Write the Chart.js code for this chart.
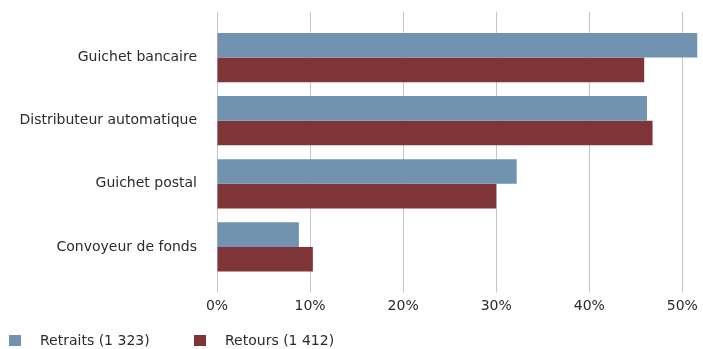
<!DOCTYPE html>
<html>
<head>
<meta charset="utf-8">
<script src="https://cdn.jsdelivr.net/npm/chart.js@4/dist/chart.umd.min.js"></script>
<style>
  html, body { margin: 0; padding: 0; background: #fff; }
  #wrap { position: relative; width: 703px; height: 349px; }
  #legend {
    position: absolute; left: 9px; top: 332px;
    display: flex; font: 14px "DejaVu Sans", sans-serif; color: #2b2b2b;
  }
  #legend .item { display: flex; align-items: center; width: 185px; }
  #legend .box { width: 12px; height: 11px; margin-right: 19px; }
</style>
</head>
<body>
<div id="wrap">
  <canvas id="chart-canaux" width="703" height="349"></canvas>
  <div id="legend"></div>
</div>
<script>
  const categories = ['Guichet bancaire', 'Distributeur automatique', 'Guichet postal', 'Convoyeur de fonds'];
  const retraits = [51.6, 46.2, 32.2, 8.8];
  const retours = [45.9, 46.8, 30.0, 10.3];
  const seriesLabels = ['Retraits (1 323)', 'Retours (1 412)'];
  const seriesColors = ['#7193af', '#7f3538'];

  const gridColor = '#c6c6c6';
  const textFont = { family: '"DejaVu Sans", sans-serif', size: 14 };

  const dataCanaux = {
    labels: categories,
    datasets: [
      { label: seriesLabels[0], data: retraits, backgroundColor: seriesColors[0] },
      { label: seriesLabels[1], data: retours, backgroundColor: seriesColors[1] }
    ]
  };

  const configCanaux = {
    type: 'bar',
    data: dataCanaux,
    options: {
      indexAxis: 'y',
      responsive: false,
      animation: false,
      categoryPercentage: 0.78,
      barPercentage: 1,
      layout: { padding: { top: 12, right: 0, bottom: 29.7, left: 0 } },
      plugins: {
        legend: { display: false },
        tooltip: { enabled: false }
      },
      scales: {
        x: {
          type: 'linear',
          position: 'bottom',
          min: 0,
          max: 52,
          border: { display: false },
          grid: { color: gridColor, tickLength: 14 },
          ticks: {
            stepSize: 10,
            includeBounds: false,
            padding: 5,
            color: '#2b2b2b',
            font: textFont,
            callback: (value) => value + '%'
          }
        },
        // axe du haut : seulement pour prolonger les lignes verticales
        xTop: {
          type: 'linear',
          position: 'top',
          min: 0,
          max: 52,
          border: { display: false },
          grid: { color: gridColor, tickLength: 14, drawOnChartArea: false },
          ticks: { stepSize: 10, includeBounds: false, display: false }
        },
        y: {
          border: { display: false },
          grid: { display: false },
          ticks: { padding: 12, color: '#2b2b2b', font: textFont },
          afterFit: (scale) => { scale.width = 217; }
        }
      }
    }
  };

  const chartCanaux = new Chart(document.getElementById('chart-canaux'), configCanaux);

  // légende en HTML sous le graphique
  const legendEl = document.getElementById('legend');
  chartCanaux.data.datasets.forEach((ds) => {
    const item = document.createElement('div');
    item.className = 'item';
    const box = document.createElement('span');
    box.className = 'box';
    box.style.background = ds.backgroundColor;
    const txt = document.createElement('span');
    txt.textContent = ds.label;
    item.appendChild(box);
    item.appendChild(txt);
    legendEl.appendChild(item);
  });
</script>
</body>
</html>
